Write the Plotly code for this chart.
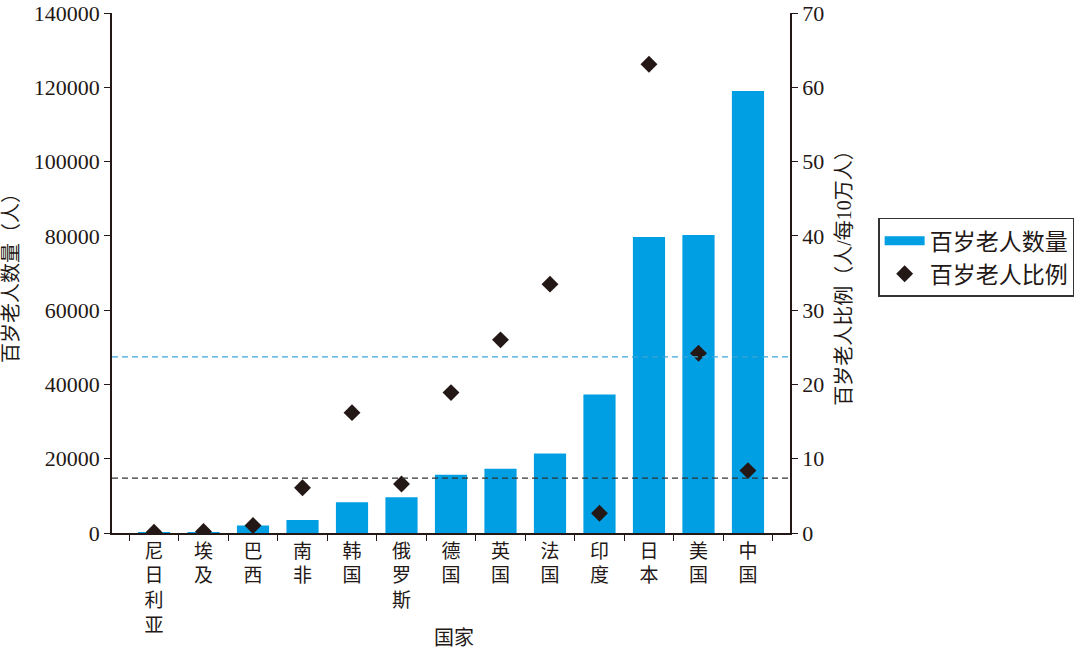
import plotly.graph_objects as go

countries = ["尼日利亚", "埃及", "巴西", "南非", "韩国", "俄罗斯", "德国", "英国", "法国", "印度", "日本", "美国", "中国"]
counts = [50, 80, 2000, 3500, 8300, 9600, 15700, 17300, 21400, 37300, 79700, 80200, 119000]
ratios = [0.1, 0.2, 1.0, 6.1, 16.2, 6.6, 18.9, 26.0, 33.5, 2.65, 63.1, 24.2, 8.4]
count_ref_line = 47400   # blue dashed, left axis
ratio_ref_line = 7.4     # black dashed, right axis

left_ticks = [0, 20000, 40000, 60000, 80000, 100000, 120000, 140000]
right_ticks = [0, 10, 20, 30, 40, 50, 60, 70]

tick_text = ["<br>".join(list(c)) for c in countries]

FONT = "Liberation Serif, Noto Sans CJK SC, serif"
BLUE = "#009fe3"
DARK = "#231815"

fig = go.Figure()
fig.add_trace(go.Bar(x=countries, y=counts, name="百岁老人数量", marker=dict(color=BLUE, line=dict(width=0)),
                     yaxis="y", showlegend=False))
# legend entry drawn as a thick line, like the reference
fig.add_trace(go.Scatter(x=[None], y=[None], name="百岁老人数量", mode="lines",
                         line=dict(color=BLUE, width=9), yaxis="y", showlegend=True))
fig.add_trace(go.Scatter(x=countries, y=ratios, name="百岁老人比例", mode="markers",
                         marker=dict(symbol="diamond", size=13, color=DARK), yaxis="y2"))

fig.add_shape(type="line", xref="paper", x0=0, x1=1, yref="y", y0=count_ref_line, y1=count_ref_line,
              line=dict(color="#3aa6d8", width=1.3, dash="6px,4px"), layer="above")
fig.add_shape(type="line", xref="paper", x0=0, x1=1, yref="y2", y0=ratio_ref_line, y1=ratio_ref_line,
              line=dict(color="#333333", width=1.3, dash="6px,4px"), layer="above")

fig.add_annotation(text="国家", xref="paper", yref="paper", x=0.505, y=-0.202, xanchor="center",
                   yanchor="middle", showarrow=False, font=dict(size=20))

fig.update_layout(
    width=1080, height=652,
    margin=dict(l=112, r=290, t=13, b=119, autoexpand=False),
    paper_bgcolor="white", plot_bgcolor="white",
    font=dict(family=FONT, size=20, color="#231815"),
    bargap=0.35,
    showlegend=True,
    legend=dict(x=1.13, y=0.606, xanchor="left", yanchor="top", bordercolor="#333333", borderwidth=1.5,
                font=dict(size=23), bgcolor="white", tracegroupgap=0, itemwidth=40),
    xaxis=dict(type="category", tickvals=countries, ticktext=tick_text, showline=True, linecolor="#231815",
               linewidth=1.5, ticks="outside", tickson="boundaries", ticklen=6, tickcolor="#231815",
               tickfont=dict(size=19), automargin=False,
               showgrid=False, mirror=False, zeroline=False),
    yaxis=dict(range=[0, 140000], tickvals=left_ticks, ticktext=[str(v) for v in left_ticks],
               showline=True, linecolor="#231815", linewidth=1.5, ticks="outside", ticklen=6,
               tickcolor="#231815", showgrid=False, zeroline=False, tickfont=dict(size=22), automargin=False,
               ticklabeloverflow="allow",
               title=dict(text="百岁老人数量（人）", standoff=20, font=dict(size=20))),
    yaxis2=dict(range=[0, 70], tickvals=right_ticks, overlaying="y", side="right", showline=True,
                linecolor="#231815", linewidth=1.5, ticks="outside", ticklen=6, tickcolor="#231815",
                showgrid=False, zeroline=False, tickfont=dict(size=22), automargin=False,
                ticklabeloverflow="allow",
                title=dict(text="百岁老人比例（人/每10万人）", standoff=14, font=dict(size=20))),
)

fig.write_html("out.html", config={"displayModeBar": False},
               post_script="document.body.style.margin='0';document.body.style.padding='0';")
